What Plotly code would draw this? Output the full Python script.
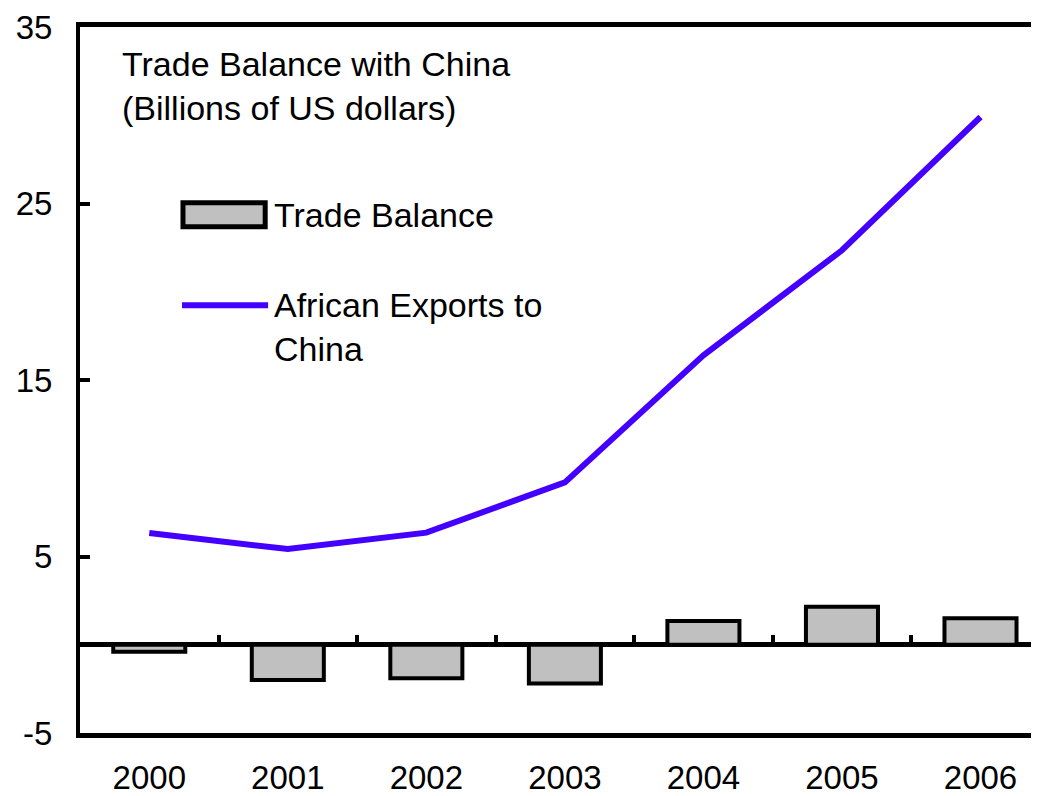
import plotly.graph_objects as go

years = ["2000", "2001", "2002", "2003", "2004", "2005", "2006"]
trade_balance = [-0.4, -2.0, -1.9, -2.2, 1.35, 2.15, 1.5]
african_exports = [6.33, 5.42, 6.35, 9.2, 16.4, 22.35, 29.9]
y_ticks = [-5, 5, 15, 25, 35]
y_tick_labels = ["-5", "5", "15", "25", "35"]

Y_MIN, Y_MAX = -5, 35
FONT = "Liberation Sans, Arial, sans-serif"
BLUE = "#4400FF"
GREY = "#C0C0C0"

fig = go.Figure()
fig.add_trace(go.Bar(
    x=years, y=trade_balance, name="Trade Balance", xaxis="x2",
    marker=dict(color=GREY, line=dict(color="black", width=4)),
    width=0.52, showlegend=False,
))
fig.add_trace(go.Scatter(
    x=years, y=african_exports, name="African Exports to China",
    mode="lines", line=dict(color=BLUE, width=6), showlegend=False,
))

zero_pos = (0 - Y_MIN) / (Y_MAX - Y_MIN)

# The page body has an 8px default margin; the plot runs off the right edge as in the original.
fig.update_layout(
    width=1039, height=788,
    margin=dict(l=72, r=0, t=19, b=63, autoexpand=False),
    paper_bgcolor="white", plot_bgcolor="white",
    font=dict(family=FONT, size=33, color="black"),
    xaxis=dict(
        type="category", categoryorder="array", categoryarray=years,
        range=[-0.5, 6.48], showline=True, linewidth=5, linecolor="black",
        mirror=True, ticks="", showgrid=False, zeroline=False,
        ticklabelstandoff=11, tickfont=dict(size=33), automargin=False,
    ),
    xaxis2=dict(
        type="category", categoryorder="array", categoryarray=years,
        overlaying="x", matches="x", anchor="free", position=zero_pos,
        side="bottom", showticklabels=False, showline=False, showgrid=False,
        ticks="inside", tickson="boundaries", ticklen=10, tickwidth=4,
        tickcolor="black", zeroline=False, automargin=False,
    ),
    yaxis=dict(
        range=[Y_MIN, Y_MAX], tickvals=y_ticks, ticktext=y_tick_labels,
        showline=True, linewidth=4,
        linecolor="black", ticks="inside", ticklen=10, tickwidth=4,
        tickcolor="black", showgrid=False, zeroline=True, zerolinewidth=5,
        zerolinecolor="black", ticklabelstandoff=17, tickfont=dict(size=33),
        automargin=False,
    ),
)

# Title text inside the plot
fig.add_annotation(
    xref="paper", yref="paper", x=0.0415, y=0.916, xanchor="left", yanchor="middle",
    text="Trade Balance with China<br>(Billions of US dollars)", showarrow=False,
    align="left", font=dict(size=34),
)

# Custom legend (wide keys as in the original)
fig.add_shape(type="rect", xref="paper", yref="paper", x0=0.1065, x1=0.1915,
              y0=0.717, y1=0.751, fillcolor=GREY, line=dict(color="black", width=5))
fig.add_annotation(xref="paper", yref="paper", x=0.1985, y=0.734, xanchor="left",
                   yanchor="middle", text="Trade Balance", showarrow=False,
                   font=dict(size=34))
fig.add_shape(type="line", xref="paper", yref="paper", x0=0.1055, x1=0.1945,
              y0=0.606, y1=0.606, line=dict(color=BLUE, width=6))
fig.add_annotation(xref="paper", yref="paper", x=0.1985, y=0.575, xanchor="left",
                   yanchor="middle", text="African Exports to<br>China",
                   showarrow=False, align="left", font=dict(size=34))

fig.write_html("out.html")
